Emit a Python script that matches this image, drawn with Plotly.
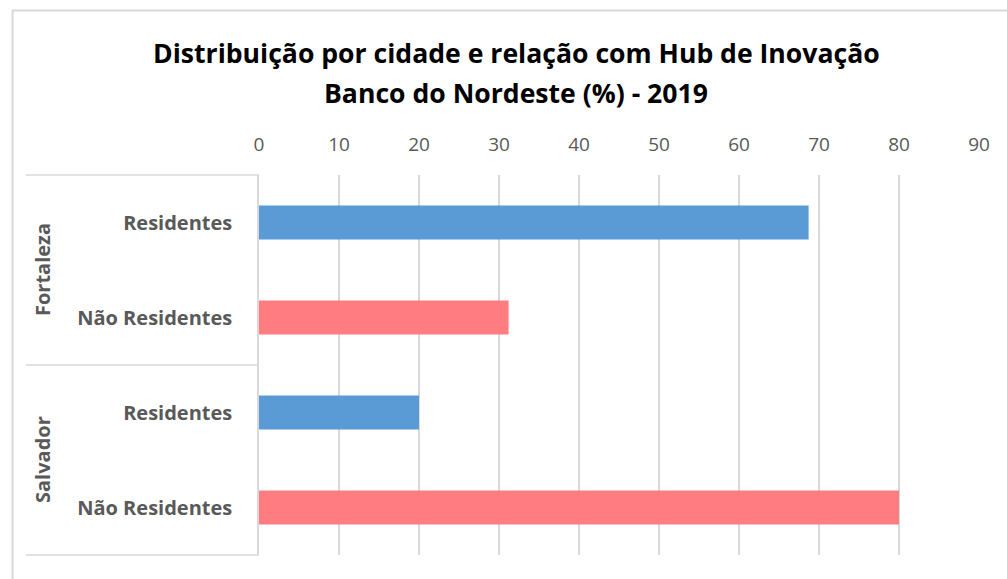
import plotly.graph_objects as go

# Data
cities = ["Fortaleza", "Salvador"]
groups = ["Residentes", "Não Residentes"]
tick_labels = ["Residentes", "Não Residentes", "Residentes", "Não Residentes"]
values = [68.7, 31.2, 20.0, 80.0]
colors_by_group = {"Residentes": "#5B9BD5", "Não Residentes": "#FF7C80"}
x_ticks = [0, 10, 20, 30, 40, 50, 60, 70, 80, 90]
title_lines = ["Distribuição por cidade e relação com Hub de Inovação",
               "Banco do Nordeste (%) - 2019"]

W, H = 1007, 579
ML, MR, MT, MB = 259, 28, 175, 24
PW = W - ML - MR
PH = H - MT - MB

rows = list(range(len(values)))
bar_colors = [colors_by_group[g] for g in tick_labels]

fig = go.Figure()
fig.add_trace(go.Bar(
    x=values, y=rows, orientation="h",
    marker=dict(color=bar_colors, line=dict(width=0)),
    width=0.36, hoverinfo="x",
))

def px_x(p):
    return (p - ML) / PW

def px_y(p):
    return 1 - (p - MT) / PH

line_col = "#D9D9D9"
shapes = []
for yy in [MT, MT + PH / 2, MT + PH]:
    shapes.append(dict(type="line", xref="paper", yref="paper",
                       x0=px_x(26), x1=0, y0=px_y(yy), y1=px_y(yy),
                       line=dict(color=line_col, width=1.5)))
shapes.append(dict(type="line", xref="paper", yref="paper",
                   x0=px_x(12), x1=px_x(1010), y0=px_y(10.5), y1=px_y(10.5),
                   line=dict(color=line_col, width=2)))
shapes.append(dict(type="line", xref="paper", yref="paper",
                   x0=px_x(12.5), x1=px_x(12.5), y0=px_y(10), y1=px_y(585),
                   line=dict(color=line_col, width=2)))

annotations = []
n_per_city = len(groups)
for i, c in enumerate(cities):
    center_row = i * n_per_city + (n_per_city - 1) / 2
    annotations.append(dict(text="<b>" + c + "</b>", x=px_x(42), xref="paper",
                            y=center_row, yref="y", textangle=-90, showarrow=False,
                            font=dict(family="Open Sans", size=20, color="#595959"),
                            xanchor="center", yanchor="middle"))
for t, yy in zip(title_lines, [53, 93]):
    annotations.append(dict(text="<b>" + t + "</b>", x=px_x(516), xref="paper",
                            y=px_y(yy), yref="paper", showarrow=False,
                            font=dict(family="Open Sans", size=26.6, color="#000000"),
                            xanchor="center", yanchor="middle"))

fig.update_layout(
    width=W, height=H,
    margin=dict(l=ML, r=MR, t=MT, b=MB),
    paper_bgcolor="white", plot_bgcolor="white",
    showlegend=False,
    xaxis=dict(side="top", range=[0, 90], tickvals=x_ticks, showgrid=True,
               gridcolor=line_col, gridwidth=1.5, zeroline=False, showline=False,
               ticks="", ticklabelstandoff=19,
               tickfont=dict(family="Open Sans", size=19, color="#595959")),
    yaxis=dict(range=[len(values) - 0.5, -0.5], tickvals=rows,
               ticktext=["<b>" + t + "</b>" for t in tick_labels],
               showgrid=False, zeroline=False, showline=True, linecolor=line_col, linewidth=1.5,
               ticks="", ticklabelstandoff=21,
               tickfont=dict(family="Open Sans", size=20, color="#595959")),
    shapes=shapes, annotations=annotations,
)

fig.write_html("out.html", config={"displayModeBar": False},
               post_script="document.body.style.margin='0';")
